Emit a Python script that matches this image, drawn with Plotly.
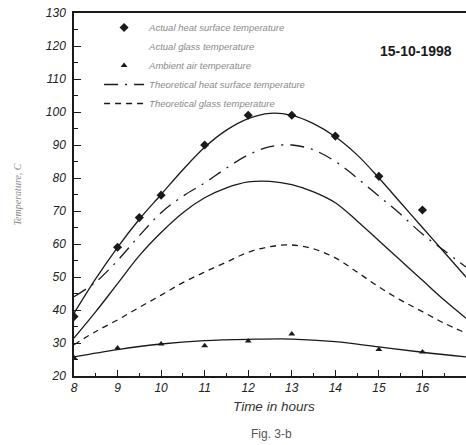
import plotly.graph_objects as go

# ---- data ----
hours = [8, 8.5, 9, 9.5, 10, 10.5, 11, 11.5, 12, 12.5, 13, 13.5, 14, 14.5, 15, 15.5, 16, 16.5, 17]

fit_heat_surface = [39, 49.5, 59, 67.5, 75, 82.5, 89.3, 94.5, 98, 99.6, 99, 96.5, 92.5, 87, 80, 72.5, 65, 57.5, 50]
theo_heat_surface = [44, 48.5, 55, 62.5, 69.5, 74.5, 78.5, 83, 87, 89.5, 90, 88.5, 85, 80, 74.5, 69, 63, 58, 53]
fit_glass = [31.5, 39.5, 48, 56.5, 63.5, 69.5, 74, 77, 78.8, 79, 78, 75.8, 72.5, 67, 61, 55, 49, 43, 37.5]
theo_glass = [29.5, 33.5, 37, 40.8, 44.5, 48.3, 51.5, 54.5, 57.5, 59.2, 59.7, 58.5, 55.8, 51.5, 47, 43, 39.5, 36, 33]

amb_hours = [8, 9, 10, 11, 12, 13, 14, 15, 16, 17]
fit_ambient = [25.8, 28, 29.7, 30.7, 31.1, 31.2, 30.4, 28.8, 27.2, 25.8]

act_heat_hours = [8, 9, 9.5, 10, 11, 12, 13, 14, 15, 16]
act_heat_surface = [38, 59, 68, 74.8, 90, 99, 99, 92.7, 80.5, 70.3]

act_glass_hours = [None]
act_glass = [None]

act_amb_hours = [8, 9, 10, 11, 12, 13, 15, 16]
act_ambient = [25.5, 28.5, 29.7, 29.2, 30.6, 32.7, 28, 27.3]

x_ticks = [8, 9, 10, 11, 12, 13, 14, 15, 16, 17]
y_ticks = [20, 30, 40, 50, 60, 70, 80, 90, 100, 110, 120, 130]

INK = "#1a1a1a"
LEG = "#8a8a8a"
LW = 1.3

fig = go.Figure()

# curves without legend entries
fig.add_trace(go.Scatter(x=hours, y=fit_heat_surface, mode="lines", line=dict(color=INK, width=LW, shape="spline"), showlegend=False))
fig.add_trace(go.Scatter(x=hours, y=fit_glass, mode="lines", line=dict(color=INK, width=LW, shape="spline"), showlegend=False))
fig.add_trace(go.Scatter(x=amb_hours, y=fit_ambient, mode="lines", line=dict(color=INK, width=LW, shape="spline"), showlegend=False))

# legend traces
fig.add_trace(go.Scatter(x=act_heat_hours, y=act_heat_surface, mode="markers",
                         marker=dict(symbol="diamond", size=7, color=INK),
                         name="Actual heat surface temperature"))
fig.add_trace(go.Scatter(x=act_glass_hours, y=act_glass, mode="markers",
                         marker=dict(symbol="circle", size=4, color="rgba(0,0,0,0)"),
                         name="Actual glass temperature"))
fig.add_trace(go.Scatter(x=act_amb_hours, y=act_ambient, mode="markers",
                         marker=dict(symbol="triangle-up", size=6, color=INK),
                         name="Ambient air temperature"))
fig.add_trace(go.Scatter(x=hours, y=theo_heat_surface, mode="lines",
                         line=dict(color=INK, width=LW, shape="spline", dash="14px,7px,2px,7px"),
                         name="Theoretical heat surface temperature"))
fig.add_trace(go.Scatter(x=hours, y=theo_glass, mode="lines",
                         line=dict(color=INK, width=LW, shape="spline", dash="6px,5px"),
                         name="Theoretical glass temperature"))

tickfont = dict(family="Liberation Sans", size=12, color="#222", style="italic")

fig.update_layout(
    width=466, height=445,
    margin=dict(l=74, r=0, t=13, b=69),
    paper_bgcolor="white", plot_bgcolor="white",
    showlegend=True,
    legend=dict(x=0.064, y=1.0, xanchor="left", yanchor="top",
                bgcolor="rgba(0,0,0,0)", borderwidth=0,
                font=dict(family="Liberation Sans", size=9.5, color=LEG, style="italic"),
                itemwidth=40, tracegroupgap=0),
    xaxis=dict(range=[8, 17], tickvals=x_ticks, ticktext=[str(v) for v in x_ticks],
               automargin=False,
               showgrid=False, zeroline=False, showline=True, linecolor=INK, linewidth=1.5,
               mirror=True, ticks="inside", ticklen=6, tickwidth=1, tickcolor=INK,
               minor=dict(ticks="inside", ticklen=3, dtick=0.5, tickcolor=INK, showgrid=False),
               tickfont=tickfont),
    yaxis=dict(range=[20, 130], tickvals=y_ticks, ticktext=[str(v) for v in y_ticks],
               automargin=False,
               showgrid=False, zeroline=False, showline=True, linecolor=INK, linewidth=1.5,
               ticks="inside", ticklen=7, tickwidth=1, tickcolor=INK,
               ticklabelstandoff=4,
               minor=dict(ticks="inside", ticklen=4, dtick=5, tickcolor=INK, showgrid=False),
               tickfont=tickfont,
               title=dict(text="Temperature, C", standoff=22,
                          font=dict(family="Liberation Serif", size=10, color=LEG, style="italic"))),
)

fig.add_annotation(text="<b>15-10-1998</b>", xref="paper", yref="paper", x=0.872, y=0.895,
                   xanchor="center", yanchor="middle",
                   showarrow=False, font=dict(family="Liberation Sans", size=14, color=INK))
fig.add_annotation(text="Time in hours", xref="paper", yref="paper", x=0.51, y=-0.083,
                   xanchor="center", yanchor="middle",
                   showarrow=False, font=dict(family="Liberation Sans", size=13.5, color="#333", style="italic"))
fig.add_annotation(text="Fig. 3-b", xref="paper", yref="paper", x=0.505, y=-0.16,
                   xanchor="center", yanchor="middle",
                   showarrow=False, font=dict(family="Liberation Sans", size=12, color="#555"))

fig.write_html("out.html", config={"displayModeBar": False},
               post_script="document.body.style.margin='0';document.body.style.overflow='hidden';")
